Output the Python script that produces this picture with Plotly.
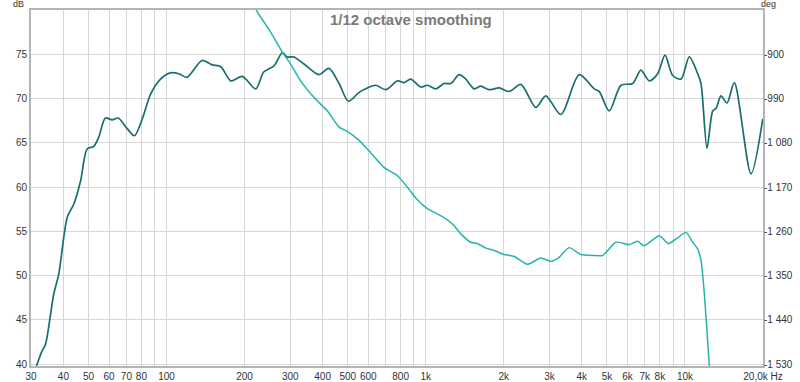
import plotly.graph_objects as go

# Magnitude response (Hz, dB)
mag_freq = [31.5, 33.1, 34.1, 36.7, 38.4, 41.4, 43.9, 46.6, 49.4, 52.4, 54.7, 58.1, 61.7, 65.1,
            70.5, 75.2, 80.6, 86.8, 94.8, 103.6, 111.6, 120, 137, 150, 162, 177, 196, 221, 237,
            260, 280, 292, 310, 339, 387, 423, 463, 503, 553, 595, 641, 701, 778, 825, 875, 957,
            1015, 1093, 1177, 1249, 1345, 1427, 1537, 1630, 1755, 1919, 2097, 2327, 2659, 2905,
            3319, 3908, 4466, 4667, 5106, 5661, 6281, 6761, 7283, 7847, 8374, 8967, 9652, 10391,
            11197, 11530, 12162, 12794, 13178, 13772, 14521, 15500, 17983, 19953]
mag_db = [39.8, 41.5, 42.2, 47.9, 50.2, 56.6, 58.1, 60.7, 64.3, 64.6, 65.6, 67.8, 67.6, 67.8,
          66.6, 65.8, 67.7, 70.5, 72.2, 72.9, 72.8, 72.4, 74.3, 73.8, 73.6, 72.0, 72.5, 71.1, 73.0,
          73.7, 75.2, 74.7, 74.7, 73.9, 72.7, 73.4, 71.7, 69.7, 70.7, 71.2, 71.5, 71.0, 72.0, 71.8,
          72.2, 71.3, 71.5, 71.1, 71.7, 71.7, 72.7, 72.2, 71.1, 71.4, 71.0, 71.2, 70.8, 71.6, 69.0,
          70.3, 68.2, 72.7, 71.1, 70.8, 68.6, 71.5, 71.7, 73.2, 72.0, 72.8, 74.9, 72.6, 72.2, 74.7,
          72.8, 71.7, 64.4, 68.6, 68.9, 70.3, 69.5, 71.8, 61.5, 67.7]

# Phase response (Hz, deg)
ph_freq = [215, 224, 252, 280, 301, 329, 371, 417, 463, 499, 545, 613, 690, 778, 849, 915,
           1000, 1077, 1160, 1268, 1365, 1491, 1584, 1707, 1838, 2009, 2196, 2466, 2779, 3039,
           3250, 3573, 3963, 4466, 4810, 5415, 6095, 6562, 6965, 7960, 8650, 9370, 10093, 10717,
           11197, 11530, 11877, 12415, 12500]
ph_deg = [-795, -814, -855, -896, -920, -954, -988, -1015, -1048, -1057, -1072, -1100, -1130,
          -1147, -1170, -1192, -1211, -1221, -1230, -1245, -1265, -1282, -1285, -1294, -1299,
          -1307, -1311, -1327, -1314, -1321, -1314, -1293, -1307, -1309, -1309, -1282, -1287,
          -1280, -1289, -1269, -1285, -1273, -1262, -1282, -1296, -1319, -1386, -1534, -1560]

x_tickvals = [30, 40, 50, 60, 70, 80, 90, 100, 200, 300, 400, 500, 600, 700, 800, 900, 1000,
              2000, 3000, 4000, 5000, 6000, 7000, 8000, 9000, 10000, 20000]
x_ticktext = ["30", "40", "50", "60", "70", "80", "", "100", "200", "300", "400", "500", "600",
              "", "800", "", "1k", "2k", "3k", "4k", "5k", "6k", "7k", "8k", "", "10k", "20,0k Hz"]
db_tickvals = [40, 45, 50, 55, 60, 65, 70, 75]
deg_tickvals = [-1530, -1440, -1350, -1260, -1170, -1080, -990, -900]
deg_ticktext = ["-1 530", "-1 440", "-1 350", "-1 260", "-1 170", "-1 080", "-990", "-900"]

fig = go.Figure()
fig.add_trace(go.Scatter(x=ph_freq, y=ph_deg, yaxis="y2", mode="lines",
                         line=dict(color="#27b3ad", width=1.5, shape="spline", smoothing=0.6),
                         showlegend=False, hoverinfo="skip"))
fig.add_trace(go.Scatter(x=mag_freq, y=mag_db, mode="lines",
                         line=dict(color="#17706c", width=1.7, shape="spline", smoothing=0.8),
                         showlegend=False, hoverinfo="skip"))

L, R, T, B = 31, 37, 10, 16
W, H = 800, 382
pw, ph = W - L - R, H - T - B

fig.update_layout(
    width=W, height=H,
    margin=dict(l=L, r=R, t=T, b=B, autoexpand=False),
    paper_bgcolor="white", plot_bgcolor="white",
    font=dict(family="Liberation Sans, Arial, sans-serif", size=10, color="#333333"),
    xaxis=dict(type="log", range=[1.4771, 4.30103], tickvals=x_tickvals, ticktext=x_ticktext,
               automargin=False,
               showgrid=True, gridcolor="#d6d6d6", gridwidth=1, zeroline=False,
               showline=True, linecolor="#b4b4b4", linewidth=2, mirror=True,
               ticks="", ticklen=0, tickangle=0, tickfont=dict(size=10, color="#333333")),
    yaxis=dict(range=[39.8, 80], tickvals=db_tickvals, showgrid=True, gridcolor="#d6d6d6",
               automargin=False,
               gridwidth=1, zeroline=False, showline=True, linecolor="#b4b4b4", linewidth=2,
               mirror=True, ticks="", tickfont=dict(size=10, color="#333333")),
    yaxis2=dict(overlaying="y", side="right", range=[-1533.6, -810], tickvals=deg_tickvals,
                automargin=False,
                ticktext=deg_ticktext, showgrid=False, zeroline=False, showline=False,
                ticks="", tickfont=dict(size=10, color="#333333")),
    annotations=[
        dict(text="<b>1/12 octave smoothing</b>", xref="paper", yref="paper",
             x=(411 - L) / pw, y=1 - (20 - T) / ph, xanchor="center", yanchor="middle",
             showarrow=False, font=dict(size=15, color="#7a7a7a",
                                        family="Liberation Sans, Arial, sans-serif")),
        dict(text="dB", xref="paper", yref="paper", x=(18 - L) / pw, y=1 + (T - 4) / ph,
             xanchor="center", yanchor="middle", showarrow=False,
             font=dict(size=9, color="#333333")),
        dict(text="deg", xref="paper", yref="paper", x=(769 - L) / pw, y=1 + (T - 4) / ph,
             xanchor="center", yanchor="middle", showarrow=False,
             font=dict(size=9, color="#333333")),
    ],
)

fig.write_html("out.html", config={"displayModeBar": False},
               post_script="document.body.style.margin='0';document.body.style.overflow='hidden';")
